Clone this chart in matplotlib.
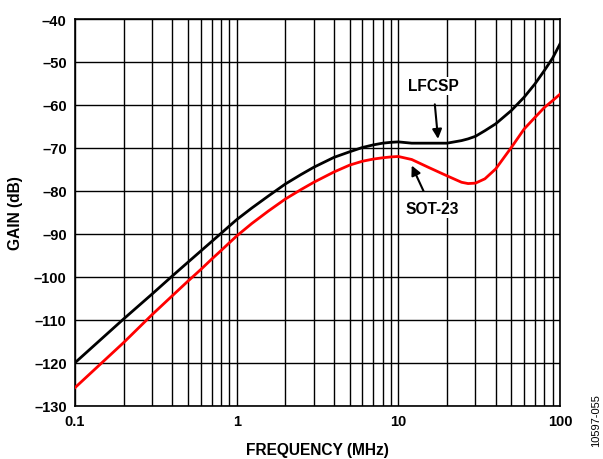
import numpy as np
import matplotlib.pyplot as plt
from matplotlib.ticker import FixedLocator, NullFormatter

plt.rcParams['font.family'] = ['Liberation Sans', 'DejaVu Sans']
plt.rcParams['font.weight'] = 'bold'

# values (frequency in MHz, gain in dB)
freq = [0.1, 0.2, 0.3, 0.4, 0.5, 0.6, 0.7, 0.8, 0.9, 1, 1.24, 1.57, 2, 2.5,
        3, 4, 5, 6, 7, 8, 9, 10, 12.1, 15.3, 20, 24.6, 27, 30, 34.3, 40, 50,
        60, 70, 80, 90, 100]
lfcsp = [-120, -109.8, -104.0, -99.8, -96.6, -94.0, -91.8, -89.9, -88.2,
         -86.7, -84.0, -81.2, -78.4, -76.2, -74.5, -72.2, -70.9, -69.9, -69.3,
         -68.9, -68.7, -68.6, -68.9, -68.9, -68.9, -68.3, -67.9, -67.3, -66.0,
         -64.4, -61.3, -58.2, -55.1, -52.0, -49.1, -45.8]
sot23 = [-125.8, -115.3, -108.8, -104.4, -101.0, -98.3, -95.9, -93.9, -92.1,
         -90.5, -87.6, -84.7, -81.9, -79.7, -78.0, -75.6, -74.0, -73.1, -72.6,
         -72.3, -72.1, -72.0, -72.7, -74.5, -76.5, -78.0, -78.3, -78.2, -77.2,
         -74.9, -69.9, -65.6, -62.9, -60.6, -59.0, -57.5]

xticks = [0.1, 1, 10, 100]
xticklabels = ['0.1', '1', '10', '100']
yticks = list(range(-130, -39, 10))

fig = plt.figure(figsize=(6.03, 4.6), dpi=100)
ax = fig.add_axes([0.1244, 0.1159, 0.8043, 0.8406])

ax.plot(freq, lfcsp, color='black', lw=2.0, zorder=3, solid_joinstyle='round')
ax.plot(freq, sot23, color='#ff0000', lw=2.0, zorder=3, solid_joinstyle='round')

ax.set_xscale('log')
ax.set_xlim(0.1, 100)
ax.set_ylim(-130, -40)

ax.set_xticks(xticks)
ax.set_xticklabels(xticklabels)
minors = [m * d for d in [0.1, 1, 10] for m in range(2, 10)]
ax.xaxis.set_minor_locator(FixedLocator(minors))
ax.xaxis.set_minor_formatter(NullFormatter())
ax.set_yticks(yticks)
ax.set_yticklabels(['\u2013%d' % abs(v) for v in yticks])

ax.grid(True, which='both', color='black', lw=1.0)
ax.tick_params(which='both', length=0, labelsize=10.5, pad=6)
for s in ax.spines.values():
    s.set_linewidth(1.2)

ax.set_xlabel('FREQUENCY (MHz)', fontsize=11.2, fontweight='bold', labelpad=10)
ax.set_ylabel('GAIN (dB)', fontsize=11.2, fontweight='bold', labelpad=8)

ax.annotate('LFCSP', xy=(17.6, -67.9), xytext=(16.4, -55.5),
            ha='center', va='center', fontsize=11.2, fontweight='bold',
            arrowprops=dict(arrowstyle='-|>', color='black', lw=1.5,
                            mutation_scale=14, shrinkA=7, shrinkB=0),
            bbox=dict(boxstyle='square,pad=0.1', fc='white', ec='none'))
ax.annotate('SOT-23', xy=(12.1, -74.1), xytext=(16.1, -84.2),
            ha='center', va='center', fontsize=11.2, fontweight='bold',
            arrowprops=dict(arrowstyle='-|>', color='black', lw=1.5,
                            mutation_scale=14, shrinkA=7, shrinkB=0),
            bbox=dict(boxstyle='square,pad=0.1', fc='white', ec='none'))

fig.text(0.988, 0.085, '10597-055', rotation=90, fontsize=8,
         fontweight='normal', ha='center', va='center')

fig.savefig('out.png', dpi=100)
